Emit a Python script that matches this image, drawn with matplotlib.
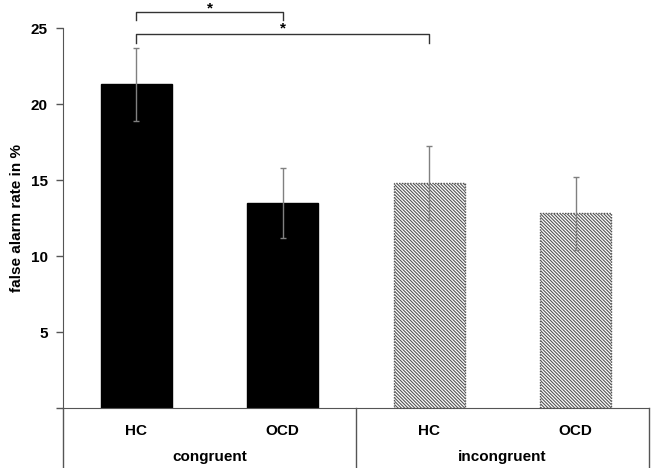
import matplotlib
matplotlib.use("Agg")
import matplotlib.pyplot as plt

groups = ["HC", "OCD", "HC", "OCD"]
conditions = ["congruent", "incongruent"]
values = [21.3, 13.5, 14.8, 12.8]
errors = [2.4, 2.3, 2.45, 2.4]
yticks = [0, 5, 10, 15, 20, 25]
yticklabels = ["", "5", "10", "15", "20", "25"]

plt.rcParams['font.family'] = ['Liberation Sans', 'DejaVu Sans']
plt.rcParams['hatch.color'] = '#9a9a9a'
plt.rcParams['hatch.linewidth'] = 0.8

fig = plt.figure(figsize=(6.52, 4.68), dpi=100)
ax = fig.add_axes([63/652, 60/468, (649-63)/652, 380/468])

x = list(range(len(values)))
faces = ['black', 'black', 'white', 'white']
edges = ['black', 'black', '#555555', '#555555']
hatches = [None, None, '\\' * 10, '\\' * 10]
for xi, v, fc, ec, h in zip(x, values, faces, edges, hatches):
    ax.bar(xi, v, width=0.485, color=fc, edgecolor=ec, hatch=h,
           linewidth=1.0, linestyle='-' if h is None else (0, (1, 1)), zorder=2)
ax.errorbar(x, values, yerr=errors, fmt='none', ecolor='#808080',
            elinewidth=1.0, capsize=2.5, capthick=1.0, zorder=3)

ax.set_xlim(-0.5, 3.5)
ax.set_ylim(0, 25)
ax.set_yticks(yticks)
ax.set_yticklabels(yticklabels, fontsize=11, fontweight='bold')
ax.set_xticks([])
ax.tick_params(axis='y', direction='out', length=5, width=1, color='#555555', pad=6)
for s in ['top', 'right']:
    ax.spines[s].set_visible(False)
ax.spines['left'].set_color('#555555')
ax.spines['bottom'].set_color('#555555')
ax.set_ylabel("false alarm rate in %", fontsize=11, fontweight='bold', labelpad=5)

# table below
lc = '#555555'
ybot = -3.95
for xv in [-0.5, 1.5, 3.5]:
    ax.plot([xv, xv], [0, ybot], color=lc, lw=1.0, clip_on=False)
for xi, g in zip(x, groups):
    ax.text(xi, -1.5, g, ha='center', va='center', fontsize=11, fontweight='bold')
for ci, c in enumerate(conditions):
    ax.text(0.5 + 2 * ci, -3.25, c, ha='center', va='center', fontsize=11, fontweight='bold')

# significance brackets
def bracket(x0, x1, y, drop, star_y):
    ax.plot([x0, x0, x1, x1], [y - drop, y, y, y - drop], color='#333333', lw=1.0, clip_on=False)
    ax.text((x0 + x1) / 2, star_y, '*', ha='center', va='center', fontsize=11, fontweight='bold', clip_on=False)

bracket(0, 1, 26.05, 0.55, 26.3)
bracket(0, 2, 24.6, 0.6, 24.95)

fig.savefig("out.png", dpi=100)
